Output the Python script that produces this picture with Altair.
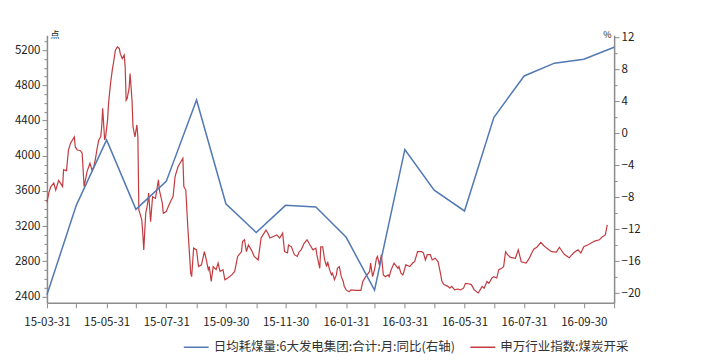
import altair as alt
import pandas as pd

blue_name = "日均耗煤量:6大发电集团:合计:月:同比(右轴)"
red_name = "申万行业指数:煤炭开采"

blue_dates = ["2015-03-31", "2015-04-30", "2015-05-31", "2015-06-30", "2015-07-31",
              "2015-08-31", "2015-09-30", "2015-10-31", "2015-11-30", "2015-12-31",
              "2016-01-31", "2016-02-29", "2016-03-31", "2016-04-30", "2016-05-31",
              "2016-06-30", "2016-07-31", "2016-08-31", "2016-09-30", "2016-10-31"]
blue_values = [-20.2, -9.0, -0.8, -9.5, -6.0, 4.2, -8.8, -12.4, -9.0, -9.2,
               -13.0, -19.6, -2.0, -7.1, -9.7, 2.0, 7.2, 8.8, 9.3, 10.8]

red_start = "2015-03-31"
red_days = [0, 2, 4, 7, 9, 12, 16, 17, 20, 22,
            24, 28, 29, 31, 34, 36, 38, 40, 41, 44,
            46, 48, 50, 51, 53, 55, 56, 57, 59, 60,
            62, 63, 65, 67, 68, 70, 72, 74, 75, 77,
            79, 80, 81, 82, 84, 85, 87, 88, 90, 92,
            93, 94, 97, 98, 99, 101, 103, 104, 106, 108,
            111, 114, 115, 118, 119, 122, 124, 127, 129, 131,
            132, 134, 136, 139, 140, 142, 144, 147, 148, 150,
            153, 155, 158, 161, 163, 165, 166, 168, 170, 173,
            175, 177, 180, 182, 185, 189, 192, 195, 199, 200,
            202, 204, 206, 209, 212, 216, 219, 224, 226, 228,
            231, 235, 238, 241, 243, 246, 247, 250, 253, 256,
            258, 260, 263, 266, 269, 272, 275, 276, 279, 280,
            282, 284, 286, 287, 289, 291, 292, 294, 296, 297,
            299, 301, 303, 304, 306, 309, 311, 316, 321, 323,
            326, 330, 331, 333, 335, 337, 338, 340, 342, 344,
            346, 349, 350, 352, 355, 359, 360, 362, 364, 366,
            367, 371, 374, 376, 379, 383, 385, 387, 389, 392,
            394, 397, 400, 402, 404, 406, 410, 412, 414, 417,
            420, 423, 426, 428, 431, 434, 437, 441, 443, 445,
            447, 450, 452, 455, 457, 460, 462, 465, 467, 469,
            471, 474, 479, 482, 485, 490, 493, 496, 498, 501,
            505, 508, 511, 516, 521, 524, 529, 534, 539, 543,
            546, 549, 554, 560, 565, 568, 571, 573]
red_values = [3470, 3580, 3650, 3690, 3610, 3720, 3650, 3840, 3830, 4065,
              4140, 4215, 4100, 4065, 4060, 4030, 3650, 3760, 3820, 3915,
              3840, 3875, 3990, 4065, 4180, 4215, 4330, 4540, 4180, 4215,
              4405, 4595, 4820, 4990, 5050, 5200, 5237, 5220, 5160, 5105,
              5145, 5010, 4630, 4650, 4765, 4935, 4630, 4330, 4215, 4350,
              4215, 3385, 3270, 3120, 2930, 3345, 3460, 3575, 3250, 3535,
              3515, 3725, 3610, 3460, 3345, 3365, 3420, 3495, 3535, 3760,
              3800, 3875, 3915, 3970, 3650, 3610, 3195, 2665, 2625, 2950,
              2930, 2740, 2760, 2910, 2815, 2705, 2740, 2570, 2740, 2705,
              2780, 2685, 2705, 2590, 2610, 2645, 2685, 2855, 2910, 3025,
              3045, 2910, 2985, 2930, 2855, 2815, 3065, 3155, 3120, 3065,
              3080, 3100, 3065, 3120, 2910, 2895, 2985, 2965, 2875, 2855,
              2910, 2930, 3005, 3045, 2985, 2930, 2950, 2875, 2720, 2965,
              2965, 2815, 2740, 2795, 2705, 2645, 2665, 2590, 2645, 2720,
              2740, 2625, 2570, 2515, 2475, 2455, 2475, 2470, 2470, 2570,
              2625, 2685, 2780, 2625, 2705, 2835, 2855, 2760, 2875, 2645,
              2625, 2645, 2625, 2705, 2780, 2720, 2740, 2665, 2645, 2720,
              2760, 2740, 2780, 2795, 2910, 2910, 2895, 2815, 2875, 2875,
              2815, 2835, 2795, 2685, 2570, 2535, 2515, 2495, 2515, 2475,
              2485, 2475, 2495, 2550, 2545, 2535, 2475, 2440, 2475, 2515,
              2495, 2570, 2550, 2610, 2625, 2610, 2705, 2720, 2740, 2910,
              2875, 2845, 2835, 2930, 2795, 2780, 2830, 2900, 2940, 2960,
              3015, 2980, 2950, 2910, 2905, 2960, 2880, 2840, 2900, 2930,
              2895, 2965, 2990, 3030, 3045, 3080, 3100, 3215]

left_ticks = list(range(2400, 5301, 100))
right_ticks = list(range(-20, 13, 2))
x_tick_dates = ["2015-03-31", "2015-04-30", "2015-05-31", "2015-06-30", "2015-07-31",
                "2015-08-31", "2015-09-30", "2015-10-31", "2015-11-30", "2015-12-31",
                "2016-01-31", "2016-02-29", "2016-03-31", "2016-04-30", "2016-05-31",
                "2016-06-30", "2016-07-31", "2016-08-31", "2016-09-30", "2016-10-31"]

red_dates = (pd.Timestamp(red_start) + pd.to_timedelta(red_days, unit="D")).strftime("%Y-%m-%d")
red_df = pd.DataFrame({"date": list(red_dates), "value": red_values, "series": red_name})
blue_df = pd.DataFrame({"date": blue_dates, "value": blue_values, "series": blue_name})

BLUE = "#5279b4"
RED = "#c23b40"
FONT = "Noto Sans CJK SC"
AXIS_COL = "#8c8c8c"


def dt(s):
    y, m, d = (int(p) for p in s.split("-"))
    return alt.DateTime(year=y, month=m, date=d, utc=True)


x_enc = alt.X(
    "date:T",
    scale=alt.Scale(type="utc", domain=[dt("2015-03-31"), dt("2016-10-31")], nice=False),
    axis=alt.Axis(
        values=[dt(s) for s in x_tick_dates],
        labelExpr="utcmonth(datum.value) % 2 == 0 ? utcFormat(datum.value, '%y-%m-%d') : ''",
        labelOverlap=False, labelFlush=False, grid=False, title=None,
        tickSize=5, labelPadding=9,
    ),
)

color_enc = alt.Color(
    "series:N",
    scale=alt.Scale(domain=[blue_name, red_name], range=[BLUE, RED]),
    legend=alt.Legend(
        orient="none", legendX=136, legendY=299, direction="horizontal",
        title=None, symbolType="stroke", symbolSize=625, symbolStrokeWidth=1.5,
        labelFontSize=12.5, labelFont=FONT, labelColor="#333333", labelLimit=0,
        columnPadding=12, symbolOffset=0,
    ),
)

red_chart = alt.Chart(red_df).mark_line(strokeWidth=1.2).encode(
    x=x_enc,
    y=alt.Y(
        "value:Q",
        scale=alt.Scale(domain=[2328, 5370], nice=False, zero=False),
        axis=alt.Axis(
            orient="left", values=left_ticks, format="d",
            labelExpr="datum.value % 400 === 0 ? datum.label : ''",
            tickSize={"condition": {"test": "datum.value % 400 === 0", "value": 5}, "value": 3},
            grid=False, title="点", titleAngle=0, titleX=3, titleY=-1,
            titleAlign="left", titleBaseline="middle", titleFontSize=9,
            titleFontWeight="normal",
        ),
    ),
    color=color_enc,
)

blue_chart = alt.Chart(blue_df).mark_line(strokeWidth=1.5).encode(
    x=x_enc,
    y=alt.Y(
        "value:Q",
        scale=alt.Scale(domain=[-21.2, 12.3], nice=False, zero=False),
        axis=alt.Axis(
            orient="right", values=right_ticks, format="d",
            labelExpr="datum.value % 4 === 0 ? datum.label : ''",
            tickSize={"condition": {"test": "datum.value % 4 === 0", "value": 5}, "value": 3},
            grid=False, title="%", titleAngle=0, titleX=-3, titleY=-1,
            titleAlign="right", titleBaseline="middle", titleFontSize=9,
            titleFontWeight="normal",
        ),
    ),
    color=color_enc,
)

chart = alt.layer(red_chart, blue_chart).resolve_scale(y="independent").properties(
    width=568, height=268,
    autosize=alt.AutoSizeParams(type="none"),
    padding={"left": 39, "top": 27, "right": 80, "bottom": 57},
).configure_view(stroke=None).configure_axis(
    domainColor=AXIS_COL, tickColor=AXIS_COL, domainWidth=1.5, tickWidth=1,
    labelFont=FONT, labelFontSize=11.5, labelColor="#222222", titleFont=FONT,
    titleColor="#222222",
)

chart.save("out.html", embed_options={"renderer": "svg", "actions": False})
